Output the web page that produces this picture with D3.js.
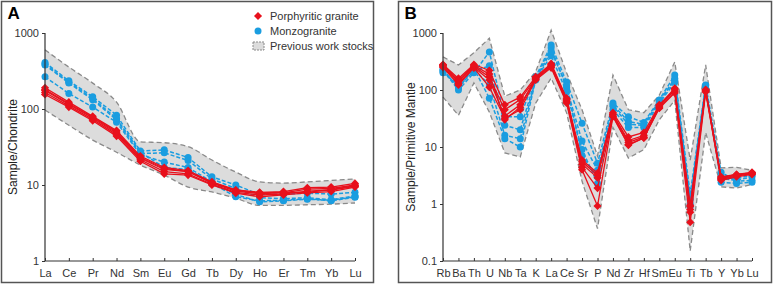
<!DOCTYPE html>
<html>
<head>
<meta charset="utf-8">
<script src="https://cdn.jsdelivr.net/npm/d3@7"></script>
<style>
  html, body { margin: 0; padding: 0; background: #fff; }
  svg { display: block; font-family: "Liberation Sans", Arial, sans-serif; }
</style>
</head>
<body>
<svg id="chart" width="775" height="286"></svg>
<script>
// ---- Panel A: chondrite-normalised REE ----
const reeElements = ["La","Ce","Pr","Nd","Sm","Eu","Gd","Tb","Dy","Ho","Er","Tm","Yb","Lu"];
const reePorphyritic = [
  [190, 123, 80, 52, 24, 17, 15.5, 11, 8.6, 8.0, 8.2, 9.2, 9.4, 10.5],
  [175, 115, 76, 48, 22.5, 16, 15, 10.6, 8.3, 7.7, 7.9, 8.8, 9.0, 10.0],
  [165, 110, 73, 46, 21.5, 15, 14, 10.2, 8.0, 7.4, 7.6, 8.3, 8.6, 9.6],
  [155, 106, 70, 44, 20.5, 14, 13.5, 10, 7.8, 7.0, 7.4, 7.9, 8.2, 9.4],
  [180, 118, 78, 50, 23, 16.5, 15, 10.8, 8.5, 7.9, 8.0, 8.0, 8.7, 9.8]
];
const reeMonzo = [
  [410, 235, 145, 83, 28, 29, 23, 12.8, 10, 7.5, 7.6, 7.8, 7.6, 8.0],
  [380, 220, 132, 72, 26, 26.5, 21, 12, 9, 6.8, 6.6, 6.8, 6.4, 7.2],
  [265, 160, 106, 67, 25, 20, 17, 11, 7.5, 6.0, 6.2, 6.5, 6.3, 7.0],
  [390, 225, 138, 75, 27, 17, 16, 10.5, 7, 6.2, 6.3, 6.6, 6.2, 6.9]
];
const reeBandUpper = [600, 356, 219, 123, 37, 36, 32, 21.3, 14.8, 11, 10.6, 11, 11.5, 12];
const reeBandLower = [97, 61, 39, 27, 18.3, 13.5, 9.4, 8.1, 6.7, 5.4, 5.4, 5.5, 5.6, 5.8];
const reeTicks = [1, 10, 100, 1000];

// ---- Panel B: primitive-mantle-normalised trace elements ----
const traceElements = ["Rb","Ba","Th","U","Nb","Ta","K","La","Ce","Sr","P","Nd","Zr","Hf","Sm","Eu","Ti","Tb","Y","Yb","Lu"];
const tracePorphyritic = [
  [280, 160, 280, 220, 55, 75, 170, 290, 72, 5.9, 3.5, 40, 15, 18, 55, 107, 0.95, 100, 3.0, 3.3, 3.6],
  [270, 140, 260, 170, 45, 68, 160, 270, 66, 5.0, 2.9, 37, 13, 16, 52, 100, 0.8, 98, 2.8, 3.2, 3.5],
  [260, 130, 250, 150, 35, 55, 155, 255, 62, 4.4, 1.9, 35, 11, 14.5, 49, 93, 0.72, 95, 2.7, 3.1, 3.4],
  [250, 123, 245, 112, 32, 45, 150, 245, 59, 4.0, 0.92, 34, 10.8, 14.4, 48, 89, 0.48, 92, 2.6, 3.0, 3.3],
  [275, 150, 270, 190, 30, 50, 165, 280, 68, 5.5, 3.2, 38, 12, 15, 53, 104, 0.9, 102, 2.9, 3.3, 3.5]
];
const traceMonzo = [
  [224, 100, 200, 465, 34, 34, 170, 617, 138, 26, 5.2, 59, 34, 27, 67, 183, 1.5, 123, 3.6, 2.5, 2.6],
  [210, 115, 215, 265, 24, 20, 160, 550, 110, 12.7, 3.9, 52, 25, 24, 62, 160, 1.2, 118, 2.4, 2.3, 2.4],
  [200, 125, 230, 123, 16, 14, 155, 400, 92, 9, 2.3, 45, 22, 22, 58, 138, 1.0, 112, 2.8, 2.6, 3.0],
  [230, 108, 240, 72, 14, 10, 150, 480, 120, 7, 3.0, 55, 28, 25, 64, 150, 0.9, 120, 3.0, 2.8, 3.2]
];
const traceBandUpper = [380, 275, 450, 810, 78, 100, 210, 1120, 200, 45, 7, 183, 45, 40, 81, 310, 5.9, 275, 4.3, 4.4, 3.9];
const traceBandLower = [75, 36, 133, 41, 7.9, 6.7, 59, 162, 40, 2.5, 0.37, 22, 6.4, 9, 30, 66, 0.15, 18, 2.0, 1.9, 2.2];
const traceTicks = [0.1, 1, 10, 100, 1000];

const RED = "#e8101c";
const BLUE = "#1a9de0";

const svg = d3.select("#chart");
const diamond = d3.symbol().type(d3.symbolDiamond2).size(42);

function drawPanel(opt) {
  const g = svg.append("g");

  // frame
  g.append("rect")
    .attr("x", opt.frame[0]).attr("y", opt.frame[1])
    .attr("width", opt.frame[2]).attr("height", opt.frame[3])
    .attr("fill", "none").attr("stroke", "#555").attr("stroke-width", 1.5);

  g.append("text")
    .attr("x", opt.frame[0] + 6).attr("y", opt.frame[1] + 17)
    .attr("font-size", 17).attr("font-weight", "bold")
    .text(opt.letter);

  const x = d3.scalePoint().domain(opt.elements).range(opt.xRange);
  const y = d3.scaleLog().domain(opt.yDomain).range([261, 33]);

  // previous work band
  const band = d3.area()
    .x((d, i) => x(opt.elements[i]))
    .y0((d, i) => y(opt.lower[i]))
    .y1(d => y(d))
    .curve(opt.curve);
  g.append("path")
    .datum(opt.upper)
    .attr("d", band)
    .attr("fill", "#dcdcdc")
    .attr("stroke", "none");
  const edge = d3.line()
    .x((d, i) => x(opt.elements[i]))
    .y(d => y(d))
    .curve(opt.curve);
  [opt.upper, opt.lower].forEach(arr => {
    g.append("path").attr("d", edge(arr))
      .attr("fill", "none").attr("stroke", "#8a8a8a")
      .attr("stroke-width", 1.3).attr("stroke-dasharray", "5,3");
  });

  const line = d3.line()
    .x((d, i) => x(opt.elements[i]))
    .y(d => y(d));

  // monzogranite: dashed blue + circles
  opt.blue.forEach(s => {
    g.append("path").attr("d", line(s))
      .attr("fill", "none").attr("stroke", BLUE)
      .attr("stroke-width", 1.5).attr("stroke-dasharray", "4,2");
    g.selectAll(null).data(s).join("circle")
      .attr("cx", (d, i) => x(opt.elements[i]))
      .attr("cy", d => y(d))
      .attr("r", 3.5)
      .attr("fill", BLUE);
  });

  // porphyritic granite: solid red + diamonds
  opt.red.forEach(s => {
    g.append("path").attr("d", line(s))
      .attr("fill", "none").attr("stroke", RED)
      .attr("stroke-width", 1.3);
    g.selectAll(null).data(s).join("path")
      .attr("d", diamond)
      .attr("transform", (d, i) => `translate(${x(opt.elements[i])},${y(d)})`)
      .attr("fill", RED);
  });

  // axes
  const yAxis = d3.axisLeft(y).tickValues(opt.ticks)
    .tickFormat(d => String(d)).tickSize(3).tickSizeOuter(0);
  const ya = g.append("g").attr("transform", `translate(${opt.xRange[0]},0)`).call(yAxis);
  ya.select(".domain").attr("d", `M0,${y(opt.yDomain[0])}V${y(opt.yDomain[1])}`)
    .attr("stroke", "#333").attr("stroke-width", 1.2);
  ya.selectAll(".tick line").attr("stroke", "#333");
  ya.selectAll(".tick text").attr("font-size", 11).attr("fill", "#333")
    .attr("font-family", "Liberation Sans, Arial, sans-serif");

  const xAxis = d3.axisBottom(x).tickSize(-3).tickSizeOuter(0).tickPadding(8);
  const xa = g.append("g").attr("transform", "translate(0,261)").call(xAxis);
  xa.select(".domain").attr("d", `M${opt.xRange[0]},0H${opt.xRange[1]}`)
    .attr("stroke", "#333").attr("stroke-width", 1.2);
  xa.selectAll(".tick line").attr("stroke", "#333");
  xa.selectAll(".tick text").attr("font-size", 11).attr("fill", "#333")
    .attr("font-family", "Liberation Sans, Arial, sans-serif");

  g.append("text")
    .attr("transform", `translate(${opt.yLabelX},147) rotate(-90)`)
    .attr("text-anchor", "middle").attr("dominant-baseline", "central")
    .attr("font-size", 12).attr("fill", "#222")
    .text(opt.yLabel);

  return g;
}

const gA = drawPanel({
  letter: "A", frame: [1.5, 1.5, 372, 281],
  elements: reeElements, xRange: [45, 355], yDomain: [1, 1000],
  upper: reeBandUpper, lower: reeBandLower, curve: d3.curveMonotoneX,
  blue: reeMonzo, red: reePorphyritic, ticks: reeTicks,
  yLabel: "Sample/Chondrite", yLabelX: 13
});

drawPanel({
  letter: "B", frame: [398.5, 1.5, 373, 281],
  elements: traceElements, xRange: [443, 752], yDomain: [0.1, 1000],
  upper: traceBandUpper, lower: traceBandLower, curve: d3.curveLinear,
  blue: traceMonzo, red: tracePorphyritic, ticks: traceTicks,
  yLabel: "Sample/Primitive Mantle", yLabelX: 411
});

// ---- Legend (panel A) ----
const legendItems = ["Porphyritic granite", "Monzogranite", "Previous work stocks"];
const leg = gA.append("g");
legendItems.forEach((t, i) => {
  const ly = 16 + i * 15;
  if (i === 0) {
    leg.append("path").attr("d", diamond)
      .attr("transform", `translate(258,${ly})`).attr("fill", RED);
  } else if (i === 1) {
    leg.append("circle").attr("cx", 258).attr("cy", ly).attr("r", 3.5).attr("fill", BLUE);
  } else {
    leg.append("rect").attr("x", 253).attr("y", ly - 4).attr("width", 11).attr("height", 8)
      .attr("fill", "#dcdcdc").attr("stroke", "#8a8a8a").attr("stroke-dasharray", "2,1");
  }
  leg.append("text").attr("x", 270).attr("y", ly).attr("dominant-baseline", "central")
    .attr("font-size", 11).attr("fill", "#333").text(t);
});
</script>
</body>
</html>
